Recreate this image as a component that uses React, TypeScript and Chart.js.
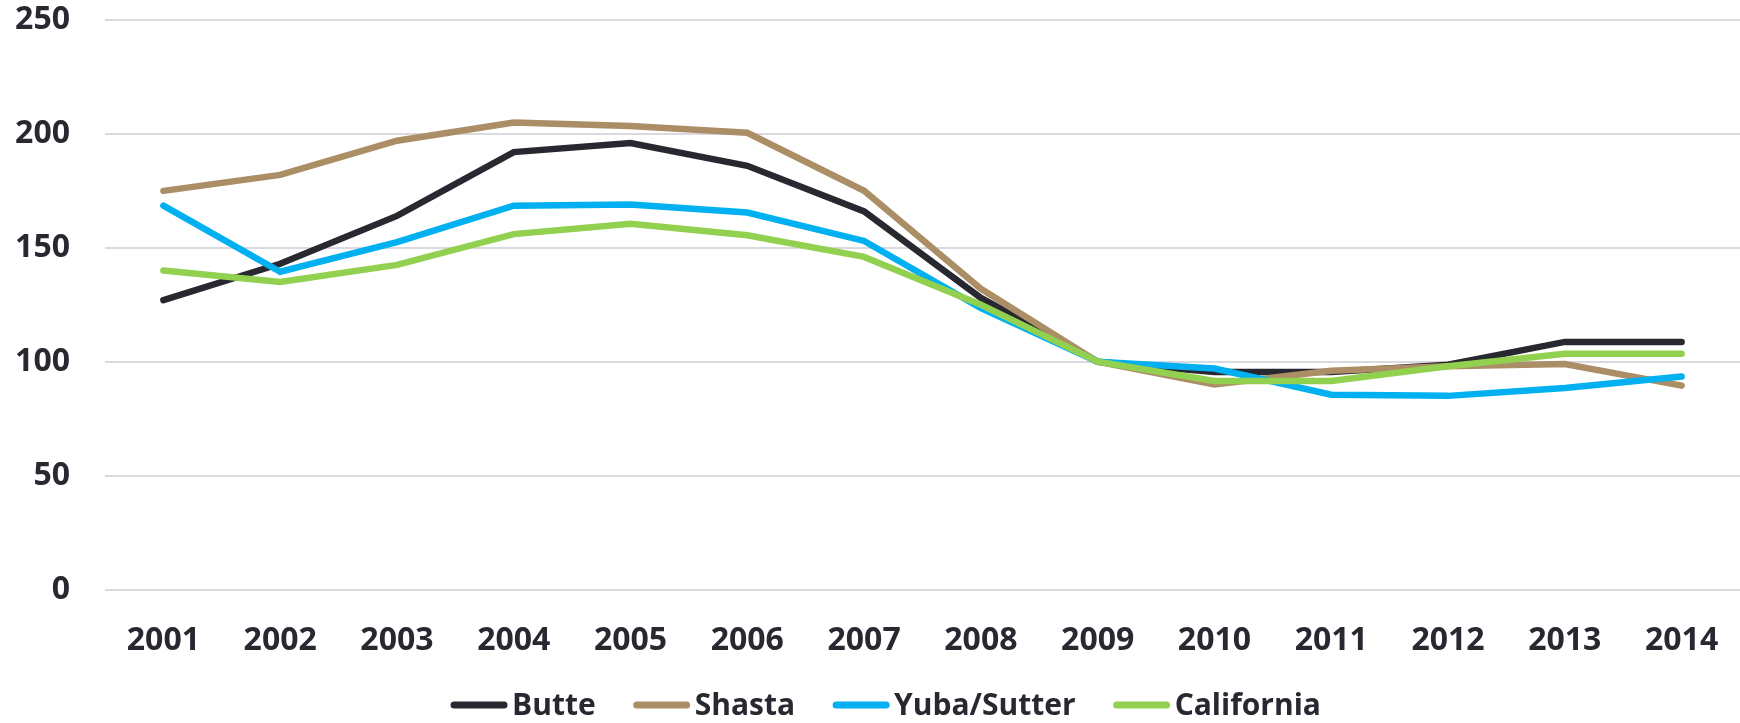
import React, { useEffect, useRef } from "react";
import { Chart, registerables } from "chart.js";

Chart.register(...registerables);

const YEARS = ["2001", "2002", "2003", "2004", "2005", "2006", "2007", "2008", "2009", "2010", "2011", "2012", "2013", "2014"];
const BUTTE = [127, 143, 164, 192, 196, 186, 166, 128, 100, 95.5, 95.5, 98.7, 108.7, 108.7];
const SHASTA = [175, 182, 197, 205, 203.5, 200.5, 175, 132, 100, 90, 96, 98, 99, 89.5];
const YUBA = [168.5, 139.5, 152.5, 168.5, 169, 165.5, 153, 123.5, 100, 97, 85.5, 85, 88.5, 93.5];
const CALIFORNIA = [140, 135, 142.5, 156, 160.5, 155.5, 146, 125, 100, 91.5, 91.5, 98, 103.5, 103.5];
const Y_TICKS = [0, 50, 100, 150, 200, 250];

const SERIES_NAMES = ["Butte", "Shasta", "Yuba/Sutter", "California"];
const SERIES_VALUES = [BUTTE, SHASTA, YUBA, CALIFORNIA];
const COLORS = ["#282831", "#ab8e66", "#00b0f0", "#92d050"];

const FONT = "'Open Sans', 'Noto Sans', sans-serif";
const TEXT = "#282831";

const legendPlugin = {
  id: "customLegend",
  afterDraw(chart: any) {
    const ctx = chart.ctx as CanvasRenderingContext2D;
    ctx.save();
    ctx.font = `700 30px ${FONT}`;
    const lineW = 56;
    const gapText = 5;
    const gapItem = 38;
    const widths = SERIES_NAMES.map((n) => lineW + gapText + ctx.measureText(n).width);
    const total = widths.reduce((a, b) => a + b, 0) + gapItem * (SERIES_NAMES.length - 1);
    let x = 886 - total / 2;
    const y = 705;
    SERIES_NAMES.forEach((name, i) => {
      ctx.strokeStyle = COLORS[i];
      ctx.lineWidth = 7;
      ctx.lineCap = "round";
      ctx.beginPath();
      ctx.moveTo(x + 3, y);
      ctx.lineTo(x + lineW - 3, y);
      ctx.stroke();
      ctx.fillStyle = TEXT;
      ctx.textBaseline = "middle";
      ctx.textAlign = "left";
      ctx.fillText(name, x + lineW + gapText, y + 1);
      x += widths[i] + gapItem;
    });
    ctx.restore();
  },
};

export default function App() {
  const ref = useRef<HTMLCanvasElement>(null);
  useEffect(() => {
    document.body.style.margin = "0";
    const canvas = ref.current!;
    const chart = new Chart(canvas, {
      type: "line",
      data: {
        labels: YEARS,
        datasets: SERIES_NAMES.map((name, i) => ({
          label: name,
          data: SERIES_VALUES[i],
          borderColor: COLORS[i],
          backgroundColor: COLORS[i],
          borderWidth: 6.5,
          borderCapStyle: "round" as const,
          borderJoinStyle: "miter" as const,
          pointRadius: 0,
          tension: 0,
          order: 3 - i,
        })),
      },
      options: {
        responsive: false,
        animation: false,
        layout: { padding: { top: 0, right: 0, left: 0, bottom: 66 } },
        plugins: { legend: { display: false }, tooltip: { enabled: false } },
        scales: {
          x: {
            offset: true,
            grid: { display: false, drawTicks: false },
            border: { display: false },
            afterFit: (axis: any) => {
              axis.height = 67.5;
              axis.paddingLeft = 0;
              axis.paddingRight = 0;
            },
            ticks: {
              color: TEXT,
              font: { family: FONT, size: 32, weight: "bold" },
              padding: 32,
              maxRotation: 0,
              autoSkip: false,
            },
          },
          y: {
            min: 0,
            max: 250,
            afterBuildTicks: (axis: any) => {
              axis.ticks = Y_TICKS.map((v) => ({ value: v }));
            },
            afterFit: (axis: any) => {
              axis.width = 105;
              axis.paddingTop = 20;
              axis.paddingBottom = 0;
            },
            grid: { color: "#d9d9df", lineWidth: 2, drawTicks: false },
            border: { display: false },
            ticks: {
              color: TEXT,
              font: { family: FONT, size: 32, weight: "bold" },
              padding: 35,
            },
          },
        },
      },
      plugins: [legendPlugin],
    });
    return () => chart.destroy();
  }, []);
  return <canvas ref={ref} width={1740} height={723} style={{ display: "block" }} />;
}
